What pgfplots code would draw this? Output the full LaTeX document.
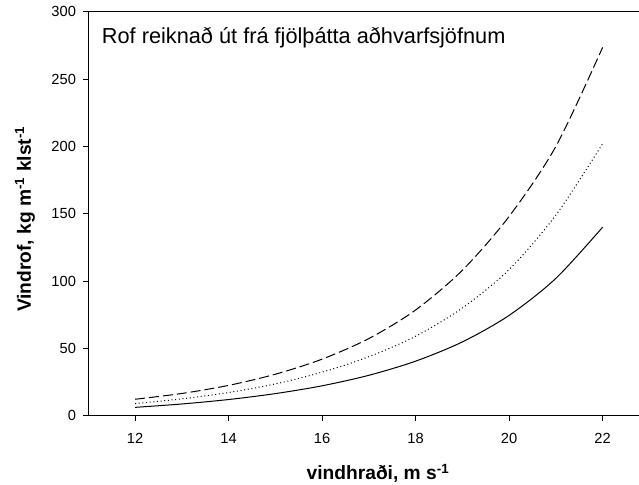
\documentclass[border=0pt]{standalone}
\usepackage{pgfplots}
\pgfplotsset{compat=1.18}
\usepackage{fontspec}
\setmainfont{Liberation Sans}
\begin{document}
\begin{tikzpicture}[x=0.75pt,y=0.75pt]
\begin{axis}[
  at={(66.225pt,51.975pt)}, anchor=south west,
  scale only axis, width=413.0pt, height=303.0pt,
  xmin=11, xmax=22.777, ymin=0, ymax=300,
  axis lines=left, axis line style={-, black, line width=0.75pt},
  xtick={12,14,...,22}, ytick={0,50,...,300},
  tick align=outside, major tick length=3.75pt,
  tick style={black, line width=0.75pt},
  /pgf/number format/assume math mode=true,
  ticklabel style={font=\fontsize{11}{13}\selectfont},
  xticklabel style={yshift=-6pt},
  yticklabel style={xshift=-2pt},
  clip=false,
]
\addplot[black, line width=0.75pt, smooth, tension=0.5] coordinates {
(12,6.2) (13,8.7) (14,12.0) (15,16.4) (16,22.2) (17,30) (18,40.5) (19,54.8) (20,74.5) (21,102) (22,140)};
\addplot[black, line width=0.75pt, smooth, tension=0.5, dash pattern=on 0.75pt off 2pt] coordinates {
(12,9.0) (13,12.5) (14,17.2) (15,23.6) (16,32.3) (17,43.8) (18,59) (19,80) (20,108.5) (21,149) (22,202)};
\addplot[black, line width=0.75pt, smooth, tension=0.5, dash pattern=on 7.5pt off 3pt] coordinates {
(12,12.2) (13,16.5) (14,22.5) (15,30.8) (16,42) (17,57.3) (18,78.5) (19,108) (20,148) (21,200) (22,273.5)};
\draw[black, line width=0.75pt] (rel axis cs:0,1) -- (rel axis cs:1,1);
\node[anchor=base west, inner sep=0pt, font=\fontsize{16.3}{19}\selectfont] at (rel axis cs:0.0243,0.9218) {Rof reiknað út frá fjölþátta aðhvarfsjöfnum};
\end{axis}
\node[anchor=base, inner sep=0pt, font=\fontsize{14.4}{17}\selectfont\bfseries] at (378,5) {vindhraði, m s\textsuperscript{-1}};
\node[anchor=base, rotate=90, inner sep=0pt, font=\fontsize{14.4}{17}\selectfont\bfseries] at (31,266) {Vindrof, kg m\textsuperscript{-1} klst\textsuperscript{-1}};
\pgfresetboundingbox
\useasboundingbox (0,0) rectangle (639,485);
\end{tikzpicture}
\end{document}
